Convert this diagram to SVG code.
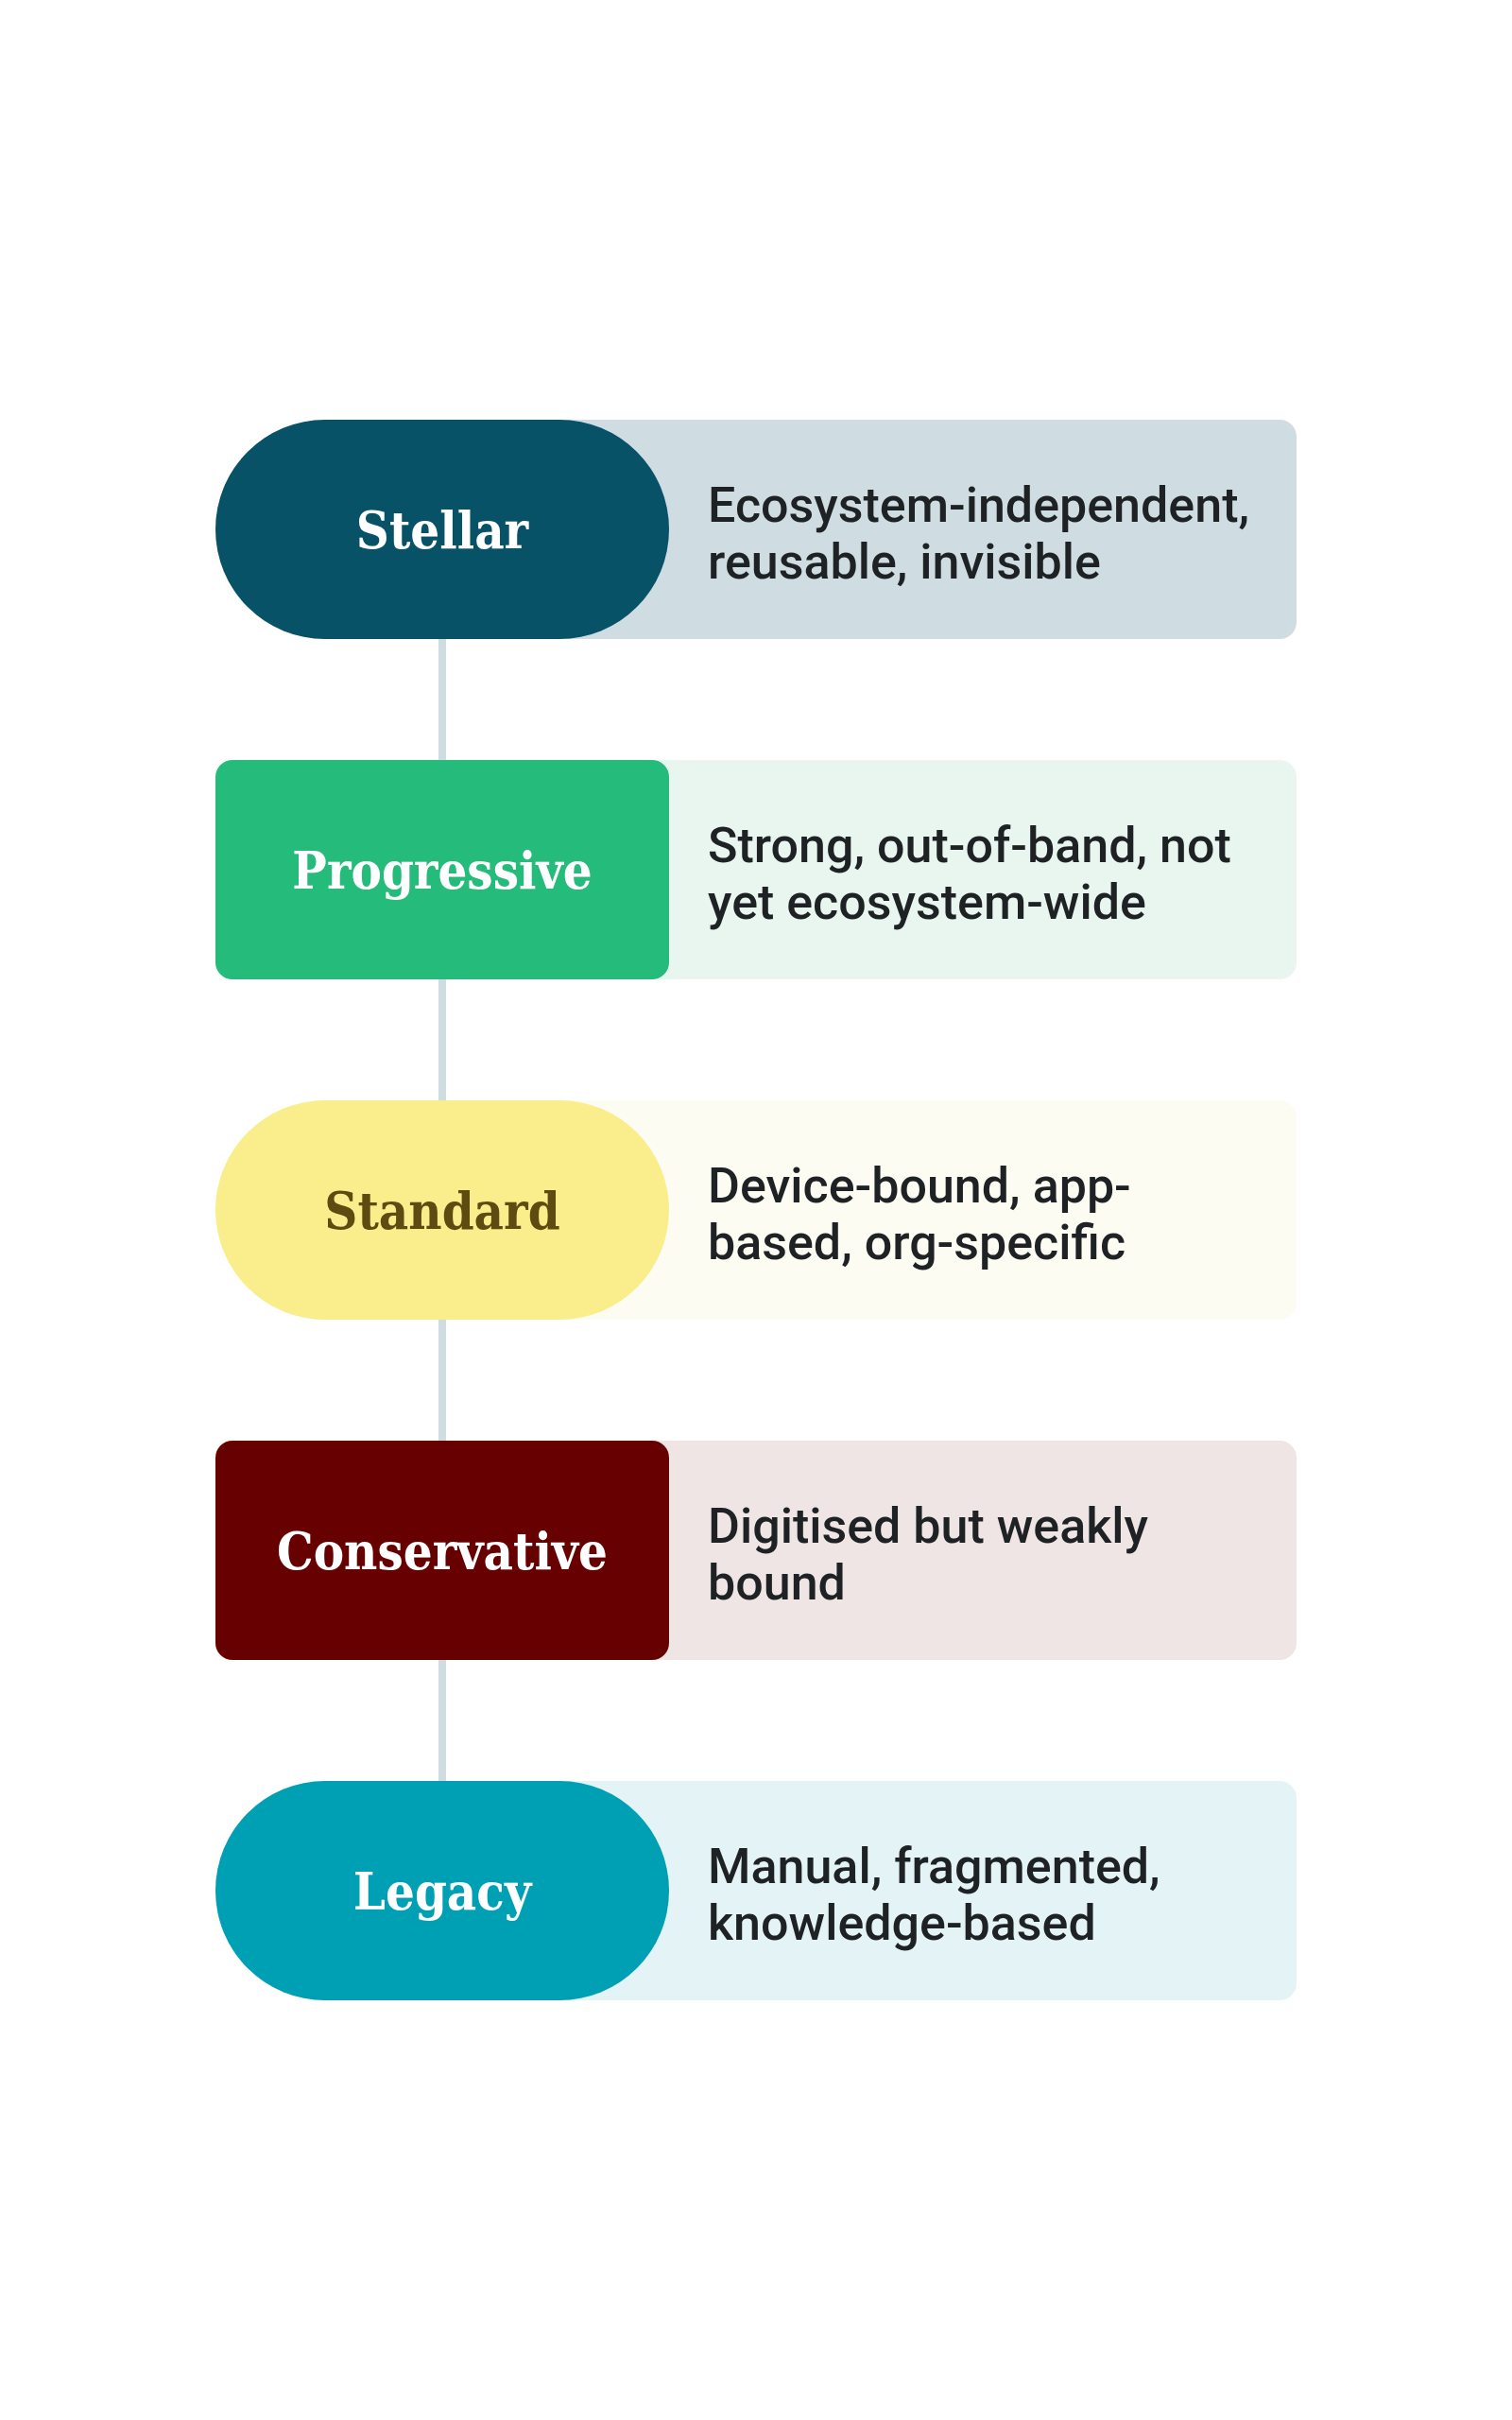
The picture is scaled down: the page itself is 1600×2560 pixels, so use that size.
<svg xmlns="http://www.w3.org/2000/svg" width="1600" height="2560" viewBox="0 0 1600 2560">
<style>
.lbl{font-family:"DejaVu Serif Condensed","DejaVu Serif","Liberation Serif",serif;font-weight:bold;font-size:54px;text-anchor:middle}
.desc{font-family:Roboto,"Liberation Sans",sans-serif;font-weight:500;font-size:52px;fill:#1e2224}
.conn{stroke:#cfdde2;stroke-width:8;fill:none}
</style>
<rect width="1600" height="2560" fill="#ffffff"/>
<g id="connectors">
<line class="conn" x1="468" y1="676" x2="468" y2="804"/>
<line class="conn" x1="468" y1="1036" x2="468" y2="1164"/>
<line class="conn" x1="468" y1="1396" x2="468" y2="1524"/>
<line class="conn" x1="468" y1="1756" x2="468" y2="1884"/>
</g>
<g id="stellar">
<rect x="468" y="444" width="904" height="232" rx="18" fill="#cfdde2"/>
<rect x="228" y="444" width="480" height="232" rx="116" ry="116" fill="#075267"/>
<text class="lbl" x="468" y="580" fill="#ffffff">Stellar</text>
<text class="desc" x="749" y="552">Ecosystem-independent,</text>
<text class="desc" x="749" y="612">reusable, invisible</text>
</g>
<g id="progressive">
<rect x="468" y="804" width="904" height="232" rx="18" fill="#e8f6ef"/>
<rect x="228" y="804" width="480" height="232" rx="18" fill="#25bb7a"/>
<text class="lbl" x="468" y="940" fill="#ffffff">Progressive</text>
<text class="desc" x="749" y="912">Strong, out-of-band, not</text>
<text class="desc" x="749" y="972">yet ecosystem-wide</text>
</g>
<g id="standard">
<rect x="468" y="1164" width="904" height="232" rx="18" fill="#fcfcf3"/>
<rect x="228" y="1164" width="480" height="232" rx="116" ry="116" fill="#faee8c"/>
<text class="lbl" x="468" y="1300" fill="#5e4b12">Standard</text>
<text class="desc" x="749" y="1272">Device-bound, app-</text>
<text class="desc" x="749" y="1332">based, org-specific</text>
</g>
<g id="conservative">
<rect x="468" y="1524" width="904" height="232" rx="18" fill="#efe5e5"/>
<rect x="228" y="1524" width="480" height="232" rx="18" fill="#670000"/>
<text class="lbl" x="468" y="1660" fill="#ffffff">Conservative</text>
<text class="desc" x="749" y="1632">Digitised but weakly</text>
<text class="desc" x="749" y="1692">bound</text>
</g>
<g id="legacy">
<rect x="468" y="1884" width="904" height="232" rx="18" fill="#e4f4f6"/>
<rect x="228" y="1884" width="480" height="232" rx="116" ry="116" fill="#00a0b4"/>
<text class="lbl" x="468" y="2020" fill="#ffffff">Legacy</text>
<text class="desc" x="749" y="1992">Manual, fragmented,</text>
<text class="desc" x="749" y="2052">knowledge-based</text>
</g>
</svg>
